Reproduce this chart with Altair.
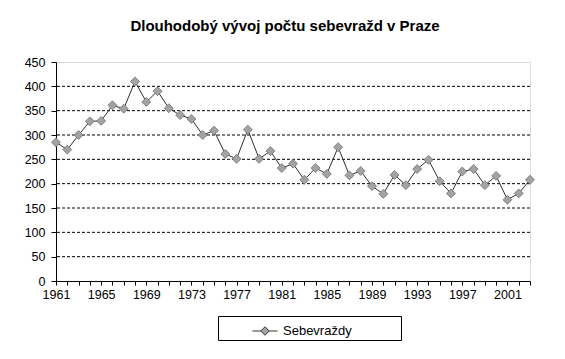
import altair as alt
import pandas as pd

years = list(range(1961, 2004))
suicides = [285, 270, 300, 328, 329, 361, 354, 410, 368, 390,
            355, 341, 333, 300, 309, 261, 251, 311, 251, 267,
            232, 241, 208, 232, 220, 275, 217, 226, 195, 179,
            218, 197, 230, 249, 205, 180, 225, 230, 197, 216,
            167, 180, 208]
series_name = "Sebevraždy"
y_ticks = [0, 50, 100, 150, 200, 250, 300, 350, 400, 450]
grid_values = [50, 100, 150, 200, 250, 300, 350, 400]
title_text = "Dlouhodobý vývoj počtu sebevražd v Praze"

df = pd.DataFrame({"year": years, "value": suicides, "series": series_name})
grid_df = pd.DataFrame({"value": grid_values})

FONT = "Liberation Sans"

x_axis = alt.Axis(values=years, format="d",
                  labelExpr="(datum.value - 1961) % 4 == 0 ? datum.label : ''",
                  ticks=True, domain=True, tickSize=4, labelPadding=3, grid=False,
                  labelFlush=False,
                  domainColor="black", tickColor="black", tickWidth=1, tickOpacity=1,
                  labelColor="black", labelFont=FONT, labelFontSize=12.5)
y_axis = alt.Axis(values=y_ticks, ticks=True, domain=True,
                  tickSize=5, labelPadding=6, grid=False,
                  domainColor="black", tickColor="black", tickWidth=1,
                  labelColor="black", labelFont=FONT, labelFontSize=12.5)

x_enc = alt.X("year:Q", scale=alt.Scale(domain=[1961, 2003], nice=False, zero=False),
              axis=x_axis, title=None)
y_enc = alt.Y("value:Q", scale=alt.Scale(domain=[0, 450], nice=False),
              axis=y_axis, title=None)

grid = alt.Chart(grid_df).mark_rule(color="black", strokeWidth=1, strokeDash=[3, 2]).encode(
    y=y_enc
)

line = alt.Chart(df).mark_line(color="#303030", strokeWidth=1).encode(x=x_enc, y=y_enc)

legend_path = "M-1,0L-0.34,0M0.34,0L1,0M0,-0.34L0.34,0L0,0.34L-0.34,0Z"
pad = "\u00a0" * 13 + "\u200b"

points = alt.Chart(df).mark_point(shape="diamond", filled=True, size=80, opacity=1,
                                  stroke="#707070", strokeWidth=0.8).encode(
    x=x_enc, y=y_enc,
    fill=alt.Fill("series:N", scale=alt.Scale(range=["#a3a3a3"]),
                  legend=alt.Legend(title=None, orient="none", legendX=162, legendY=254,
                                    symbolType=legend_path, symbolSize=625,
                                    symbolStrokeColor="#333333", symbolStrokeWidth=1,
                                    symbolOffset=32, labelOffset=5,
                                    labelExpr="datum.label + '" + pad + "'",
                                    labelFont=FONT, labelFontSize=13, labelColor="black",
                                    padding=2, strokeColor="black", fillColor="white"))
)

chart = alt.layer(grid, line, points).properties(
    width=474, height=219,
    title=alt.TitleParams(title_text, font=FONT, fontSize=15, fontWeight="bold",
                          color="black", anchor="middle", dx=-8, offset=22),
    autosize=alt.AutoSizeParams(type="none"),
    padding={"left": 48, "top": 54, "right": 20, "bottom": 70},
).configure_view(stroke=None).configure(background="white")

chart.save("out.html", embed_options={"renderer": "svg", "actions": False})
